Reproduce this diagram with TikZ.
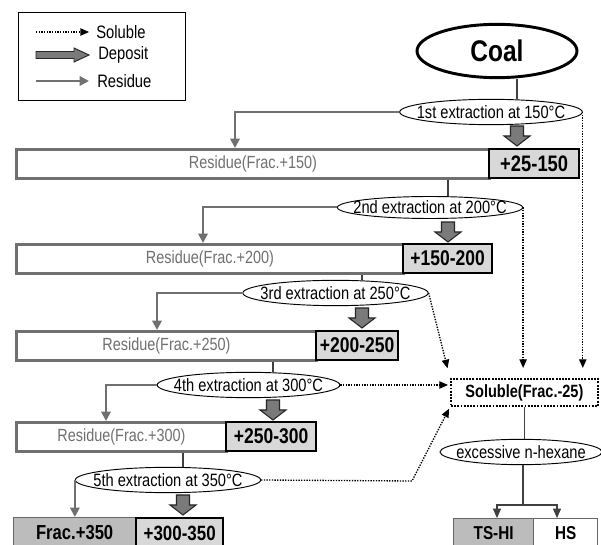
\documentclass[tikz,border=0pt]{standalone}
\usepackage{fontspec}
\setmainfont{Liberation Sans}[FakeStretch=0.82]
\usetikzlibrary{shapes.geometric,arrows.meta}

\definecolor{resgray}{RGB}{112,112,112}
\definecolor{fracfill}{RGB}{216,216,216}
\definecolor{darkfill}{RGB}{188,188,188}
\definecolor{depfill}{RGB}{122,122,122}

\begin{document}
\begin{tikzpicture}[x=0.75pt,y=0.75pt,yscale=-1,xscale=1,
  resbox/.style={draw=resgray,line width=2.2pt,minimum height=21.5pt,anchor=north west,inner sep=0pt,text=resgray,font=\fontsize{13.2}{15}\selectfont},
  fracbox/.style={draw=black,line width=1.8pt,fill=fracfill,minimum height=21.5pt,anchor=north west,inner sep=0pt,font=\bfseries\fontsize{16}{18}\selectfont},
  endbox/.style={draw=black!60,line width=1pt,minimum height=21pt,anchor=north west,inner sep=0pt,font=\bfseries\fontsize{15.2}{17}\selectfont},
  extlabel/.style={font=\fontsize{13.4}{15}\selectfont,inner sep=0pt},
  extract/.style={ellipse,draw,line width=0.7pt,inner sep=0pt,fill=white,minimum height=19pt,label={[extlabel]center:#1}},
  deposit/.pic={\draw[fill=depfill,draw=black!85,line width=0.8pt] (-6.5,10) -- (6.5,10) -- (6.5,0) -- (13,0) -- (0,-10) -- (-13,0) -- (-6.5,0) -- cycle;},
  legdeposit/.pic={\draw[fill=depfill,draw=black!85,line width=0.7pt] (-26.5,-3.5) -- (11.5,-3.5) -- (11.5,-7) -- (26.5,0) -- (11.5,7) -- (11.5,3.5) -- (-26.5,3.5) -- cycle;},
  link/.style={draw=black!75,line width=0.8pt},
  residue/.style={draw=resgray,line width=1.5pt,-{Triangle[width=7pt,length=7pt]}},
  soluble/.style={draw=black,line width=1pt,densely dotted,-{Triangle[width=5.5pt,length=6.5pt]}},
  legtext/.style={anchor=west,inner sep=0pt,font=\fontsize{13.5}{15}\selectfont},
]
\path[fill=white] (0,0) rectangle (601,545);
\useasboundingbox (0,0) rectangle (601,545);

% Legend
\node[draw,line width=0.9pt,minimum width=125.25pt,minimum height=66pt,anchor=north west,inner sep=0pt] (legend) at (18,12) {};
\coordinate (ls1) at (36,32);
\coordinate (ls2) at (89,32);
\coordinate (lr1) at (36,81);
\coordinate (lr2) at (89,81);
\draw[soluble] (ls1) -- (ls2);
\pic (ld) at (62.5,55) {legdeposit};
\draw[residue] (lr1) -- (lr2);
\node[legtext] (tsol) at (96,32) {Soluble};
\node[legtext] (tdep) at (98,55) {Deposit};
\node[legtext] (tres) at (97,81) {Residue};

% Coal
\node[ellipse,draw,line width=2.2pt,minimum width=120pt,minimum height=40pt,inner sep=0pt,font=\bfseries\fontsize{22.4}{25}\selectfont] (coal) at (497,51) {Coal};

% Residue and deposit boxes
\node[resbox,minimum width=354.75pt] (r1) at (15,148) {Residue(Frac.+150)};
\node[fracbox,minimum width=67.5pt,font=\bfseries\fontsize{16.8}{18}\selectfont] (f1) at (488,148) {+25-150};
\node[resbox,minimum width=290.25pt] (r2) at (15,243) {Residue(Frac.+200)};
\node[fracbox,minimum width=66.75pt] (f2) at (402,243) {+150-200};
\node[resbox,minimum width=225pt] (r3) at (15,330) {Residue(Frac.+250)};
\node[fracbox,minimum width=61.5pt] (f3) at (315,330) {+200-250};
\node[resbox,minimum width=157.5pt] (r4) at (15,421) {Residue(Frac.+300)};
\node[fracbox,minimum width=67.5pt] (f4) at (225,421) {+250-300};
\node[endbox,fill=darkfill,minimum width=91.5pt,minimum height=22.5pt] (r5) at (13,517) {Frac.+350};
\node[fracbox,minimum width=65.25pt,minimum height=22.5pt,font=\bfseries\fontsize{15.5}{17}\selectfont] (f5) at (135,517) {+300-350};

% Extraction steps
\node[extract={1st extraction at 150°C},minimum width=137pt] (e1) at (491,112) {};
\node[extract={2nd extraction at 200°C},minimum width=139pt,minimum height=16.5pt] (e2) at (430,207.5) {};
\node[extract={3rd extraction at 250°C},minimum width=139pt] (e3) at (335.5,293) {};
\node[extract={4th extraction at 300°C},minimum width=137pt] (e4) at (248.5,385) {};
\node[extract={5th extraction at 350°C},minimum width=139pt] (e5) at (168,480) {};

% Deposit arrows
\pic (d1) at (517,136) {deposit};
\pic (d2) at (448,232) {deposit};
\pic (d3) at (362,318) {deposit};
\pic (d4) at (273,410) {deposit};
\pic (d5) at (183,505) {deposit};
\coordinate (x1) at (517,0);
\coordinate (x2) at (448,0);
\coordinate (x3) at (362,0);
\coordinate (x4) at (273,0);
\coordinate (x5) at (183,0);

% Soluble fraction and its split
\node[draw,line width=1.4pt,densely dotted,minimum width=110.25pt,minimum height=20.25pt,anchor=north west,inner sep=0pt,font=\bfseries\fontsize{13.3}{15}\selectfont] (sol) at (450,378) {Soluble(Frac.-25)};
\node[extract={excessive n-hexane},minimum width=121.5pt,minimum height=19pt] (e6) at (521,452) {};
\node[endbox,fill=darkfill,minimum width=60pt,font=\bfseries\fontsize{14}{16}\selectfont] (tshi) at (453,518) {TS-HI};
\node[endbox,minimum width=48pt,font=\bfseries\fontsize{14}{16}\selectfont] (hs) at (533,518) {HS};

% Connecting lines
\draw[link] (coal.south -| x1) -- (e1.north -| x1);
\draw[link] (r1.south -| x2) -- (e2.north -| x2);
\draw[link] (r2.south -| x3) -- (e3.north -| x3);
\draw[link] (r3.south -| x4) -- (e4.north -| x4);
\draw[link] (r4.south -| x5) -- (e5.north -| x5);

% Residue arrows
\coordinate (a1) at (235,0);
\coordinate (a2) at (203,0);
\coordinate (a3) at (157,0);
\coordinate (a4) at (106,0);
\draw[residue] (e1.west) -| (r1.north -| a1);
\draw[residue] (e2.west) -| (r2.north -| a2);
\draw[residue] (e3.west) -| (r3.north -| a3);
\draw[residue] (e4.west) -| (r4.north -| a4);
\draw[residue] (e5.west) -- (e5.west |- r5.north);

% Soluble arrows
\coordinate (k5) at (412,481);
\draw[soluble,shorten >=7.5pt] (e1.east) -- (e1.east |- sol.north);
\draw[soluble,shorten >=7.5pt] (e2.east) -- (e2.east |- sol.north);
\draw[soluble,shorten >=7.5pt] (e3.east) -- (sol.north west);
\draw[soluble,shorten >=1.5pt] (e4.east) -- (e4.east -| sol.west);
\draw[soluble,shorten >=1.5pt] (e5.east) -- (k5) -- (sol.south west);

% Hexane split
\coordinate (sp) at (523,505);
\coordinate (sl) at (497,505);
\coordinate (sr) at (557,505);
\draw[link] (sol.south) -- (e6.north -| sol.south);
\draw[link] (e6.south -| sp) -- (sp);
\draw[link,-{Triangle[width=6pt,length=7pt]}] (sp) -- (sl) -- (sl |- tshi.north);
\draw[link,-{Triangle[width=6pt,length=7pt]}] (sp) -- (sr) -- (sr |- hs.north);

\end{tikzpicture}
\end{document}
